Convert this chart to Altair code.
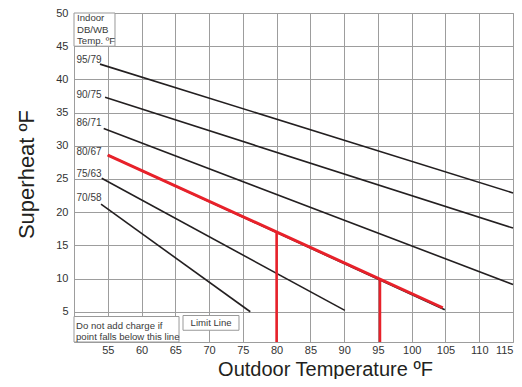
import altair as alt
import pandas as pd

# Indoor DB/WB curves (straight segments): start and end points
series_names = ["95/79", "90/75", "86/71", "80/67", "75/63", "70/58"]
start_x = [53.85, 54.6, 54.4, 55.0, 54.1, 54.0]
start_y = [42.3, 37.3, 32.6, 28.6, 25.1, 21.2]
end_x = [115.0, 115.0, 115.0, 104.9, 90.1, 76.1]
end_y = [22.9, 17.6, 9.1, 5.3, 5.2, 5.0]

# Curve label positions
label_x = [50.37, 50.37, 50.37, 50.37, 50.37, 50.37]
label_y = [42.9, 37.6, 33.5, 29.05, 25.8, 22.1]

# Highlighted (red) 80/67 line and its two drop lines
red_x = [55.0, 104.6]
red_y = [28.6, 5.6]
drop_x = [80.0, 95.3]
drop_top = [17.0, 9.9]

# Boxes (legend / notes)
box_x = [50.0, 50.0, 66.14]
box_x2 = [56.07, 65.55, 74.43]
box_y = [45.0, 0.44, 2.21]
box_y2 = [50.0, 4.28, 4.43]

note_text = ["Indoor", "DB/WB", "Temp. ºF", "Do not add charge if",
             "point falls below this line", "Limit Line"]
note_x = [50.45, 50.45, 50.45, 50.3, 50.3, 70.3]
note_y = [49.26, 47.49, 45.72, 2.86, 1.22, 3.3]
note_align = ["left", "left", "left", "left", "left", "center"]

x_ticks = list(range(55, 120, 5))
y_ticks = list(range(5, 55, 5))

FONT = "Liberation Sans"
GRID = "#9d9d9d"

x_scale = alt.Scale(domain=[50, 115], nice=False, zero=False)
y_scale = alt.Scale(domain=[0.44, 50], nice=False, zero=False)

x_axis = alt.Axis(values=x_ticks, grid=True, gridColor=GRID, gridWidth=1,
                  domain=False, ticks=False, labelFont=FONT, labelFontSize=11,
                  labelColor="#333333", labelPadding=2,
                  title="Outdoor Temperature ºF", titleFont=FONT,
                  titleFontSize=20, titleFontWeight="normal",
                  titleColor="#231f20", titleX=251, titleY=33,
                  titleAlign="center", titleBaseline="alphabetic")
y_axis = alt.Axis(values=y_ticks, grid=True, gridColor=GRID, gridWidth=1,
                  domain=False, ticks=False, labelFont=FONT, labelFontSize=11,
                  labelColor="#333333", labelPadding=6,
                  title="Superheat ºF", titleFont=FONT, titleFontSize=22,
                  titleFontWeight="normal", titleColor="#231f20",
                  titleAngle=270, titleX=-41, titleY=161,
                  titleAlign="center", titleBaseline="alphabetic")

rows = []
for i, n in enumerate(series_names):
    rows.append({"series": n, "x": start_x[i], "y": start_y[i], "o": 0})
    rows.append({"series": n, "x": end_x[i], "y": end_y[i], "o": 1})
lines_df = pd.DataFrame(rows)

labels_df = pd.DataFrame({"x": label_x, "y": label_y, "text": series_names})
red_df = pd.DataFrame({"x": red_x, "y": red_y})
drop_df = pd.DataFrame({"x": drop_x, "y": [0.44, 0.44], "y2": drop_top})
box_df = pd.DataFrame({"x": box_x, "x2": box_x2, "y": box_y, "y2": box_y2})
note_df = pd.DataFrame({"x": note_x, "y": note_y, "text": note_text,
                        "align": note_align})

X = alt.X("x:Q", scale=x_scale, axis=x_axis)
Y = alt.Y("y:Q", scale=y_scale, axis=y_axis)

boxes = alt.Chart(box_df).mark_rect(fill="white", stroke="#999999",
                                    strokeWidth=1).encode(
    x=X, x2="x2:Q", y=Y, y2="y2:Q")

black = alt.Chart(lines_df).mark_line(color="#231f20", strokeWidth=1.6).encode(
    x=X, y=Y, detail="series:N", order="o:Q")

red = alt.Chart(red_df).mark_line(color="#e8212a", strokeWidth=3).encode(
    x=X, y=Y)

drops = alt.Chart(drop_df).mark_rule(color="#e8212a", strokeWidth=2.6).encode(
    x=X, y=Y, y2="y2:Q")

labels = alt.Chart(labels_df).mark_text(align="left", baseline="middle",
                                        font=FONT, fontSize=10,
                                        color="#3a3a3a").encode(
    x=X, y=Y, text="text:N")

notes_left = alt.Chart(note_df[note_df["align"] == "left"]).mark_text(
    align="left", baseline="middle", font=FONT, fontSize=9.6,
    color="#3a3a3a").encode(x=X, y=Y, text="text:N")
notes_center = alt.Chart(note_df[note_df["align"] == "center"]).mark_text(
    align="center", baseline="middle", font=FONT, fontSize=9.6,
    color="#3a3a3a").encode(x=X, y=Y, text="text:N")

chart = alt.layer(boxes, black, red, drops, labels, notes_left,
                  notes_center).properties(
    width=439, height=329, autosize="none",
    padding={"left": 66, "top": 5, "right": 1, "bottom": 37},
    background="white",
).configure_view(stroke="#9d9d9d", strokeWidth=1)

chart.save("out.html", embed_options={"renderer": "svg", "actions": False})
